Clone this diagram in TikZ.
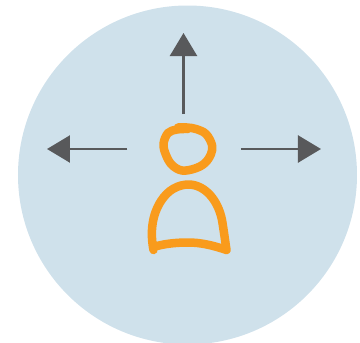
\documentclass[tikz,border=0pt]{standalone}
\usetikzlibrary{arrows.meta}
\definecolor{disc}{HTML}{CFE1EB}
\definecolor{arrowgrey}{HTML}{58595B}
\definecolor{sketch}{HTML}{F99B1C}
\tikzset{
  pointer/.style={draw=arrowgrey,line width=2.4pt,-{Triangle[length=23pt,width=27pt,fill=arrowgrey]}},
  scribble/.style={draw=sketch,line width=8.5pt,line cap=round,line join=round}
}
\begin{document}
\begin{tikzpicture}[x=1pt,y=-1pt]
\useasboundingbox (0,0) rectangle (360,343);
\begin{scope}
\clip (0,0) rectangle (360,343);
\fill[disc] (187.5,175) circle (169.5pt);
\end{scope}
\coordinate (upS) at (183.5,114);
\coordinate (upE) at (183.5,33);
\coordinate (leftS) at (127.5,149);
\coordinate (leftE) at (47,149);
\coordinate (rightS) at (241,149);
\coordinate (rightE) at (321,149);
\draw[pointer] (upS) -- (upE);
\draw[pointer] (leftS) -- (leftE);
\draw[pointer] (rightS) -- (rightE);
% head
\draw[scribble] plot[smooth,tension=0.6] coordinates {(188,129) (177,129.5) (168,133) (163.5,144) (166,155) (172,165) (182,170.5) (195,168.5) (205,163) (211,154) (212,145) (206,134) (196,129) (187,127.5) (178,127.5)};
% body
\draw[scribble] (153.5,250) .. controls (150,232) and (152,215) .. (161,201)
  .. controls (168,190) and (178,184.5) .. (189,184.5)
  .. controls (205,185) and (218,200) .. (222,220)
  .. controls (224,232) and (225,240) .. (226.5,250)
  .. controls (212,245) and (200,242.5) .. (188,242.5)
  .. controls (175,242.5) and (163,244) .. (153.5,247);
\end{tikzpicture}
\end{document}
